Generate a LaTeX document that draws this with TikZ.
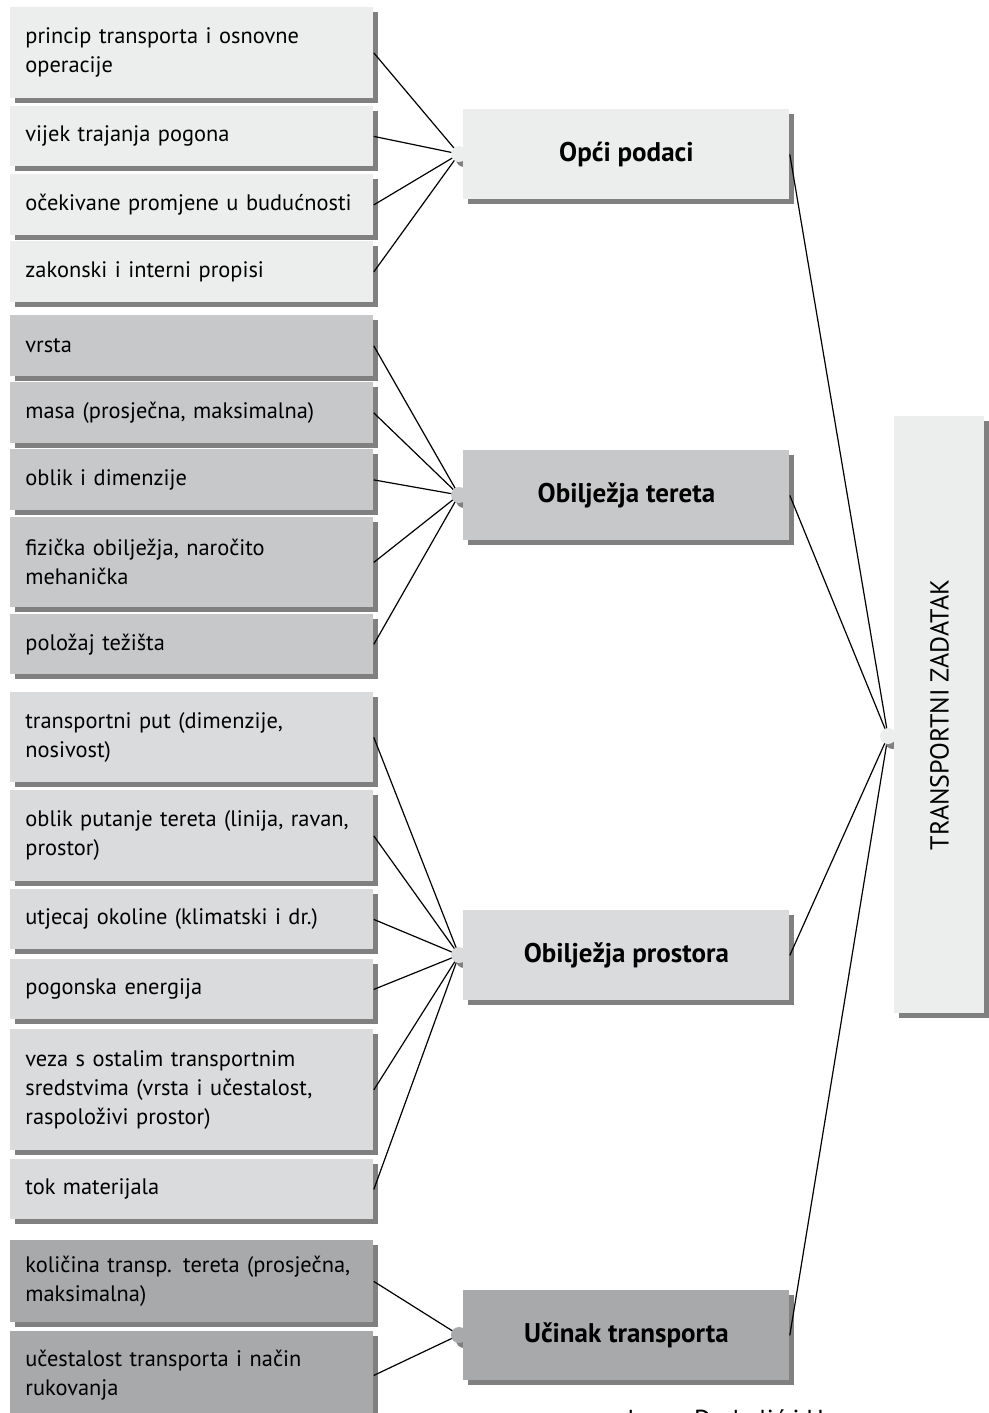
\documentclass[tikz,border=0pt]{standalone}
\usepackage{fontspec}
\setmainfont{PT Sans}
\usetikzlibrary{shadows}

\definecolor{toneA}{RGB}{236,237,237}
\definecolor{toneB}{RGB}{199,200,201}
\definecolor{toneC}{RGB}{218,219,220}
\definecolor{toneD}{RGB}{168,169,171}
\definecolor{shadegrey}{RGB}{128,128,128}

\begin{document}
\begin{tikzpicture}[x=0.5pt, y=-0.5pt,
    box/.style={inner sep=0pt,
        drop shadow={shadow xshift=2.5pt, shadow yshift=-2.5pt, fill=shadegrey, opacity=1}},
    leaf/.style={box, anchor=north west, minimum width=181.5pt, text width=166.5pt,
        inner xsep=7.5pt, align=left, font=\fontsize{11.2}{14.5}\selectfont},
    hub/.style={box, anchor=north west, minimum width=163pt, minimum height=45pt,
        font=\fontsize{13.5}{15}\selectfont\bfseries},
    tab/.style={box, circle, minimum size=8pt},
    link/.style={line width=0.6pt}]
    \useasboundingbox (0,0) rectangle (989,1413);

    % General data
    \node[leaf, fill=toneA, minimum height=45.5pt] (princip) at (10,7) {princip transporta i osnovne\\ operacije};
    \node[leaf, fill=toneA, minimum height=30pt] (vijek) at (10,106) {vijek trajanja pogona};
    \node[leaf, fill=toneA, minimum height=30.5pt] (promjene) at (10,174) {očekivane promjene u budućnosti};
    \node[leaf, fill=toneA, minimum height=30.5pt] (propisi) at (10,241) {zakonski i interni propisi};

    % Load properties
    \node[leaf, fill=toneB, minimum height=30.5pt] (vrsta) at (10,315) {vrsta};
    \node[leaf, fill=toneB, minimum height=30.5pt] (masa) at (10,382) {masa (prosječna, maksimalna)};
    \node[leaf, fill=toneB, minimum height=30.5pt] (oblik) at (10,449) {oblik i dimenzije};
    \node[leaf, fill=toneB, minimum height=45pt] (fizicka) at (10,517) {fizička obilježja, naročito\\ mehanička};
    \node[leaf, fill=toneB, minimum height=30pt] (teziste) at (10,614) {položaj težišta};

    % Space properties
    \node[leaf, fill=toneC, minimum height=45pt] (put) at (10,692) {transportni put (dimenzije,\\ nosivost)};
    \node[leaf, fill=toneC, minimum height=45.5pt] (putanja) at (10,790) {oblik putanje tereta (linija, ravan,\\ prostor)};
    \node[leaf, fill=toneC, minimum height=30pt] (okolina) at (10,889) {utjecaj okoline (klimatski i dr.)};
    \node[leaf, fill=toneC, minimum height=30pt] (energija) at (10,959) {pogonska energija};
    \node[leaf, fill=toneC, minimum height=60.5pt] (veza) at (10,1029) {veza s ostalim transportnim\\ sredstvima (vrsta i učestalost,\\ raspoloživi prostor)};
    \node[leaf, fill=toneC, minimum height=30pt] (tok) at (10,1159) {tok materijala};

    % Throughput
    \node[leaf, fill=toneD, minimum height=41pt] (kolicina) at (10,1240) {količina transp. tereta (prosječna,\\ maksimalna)};
    \node[leaf, fill=toneD, minimum height=44pt] (ucestalost) at (10,1331) {učestalost transporta i način\\ rukovanja};

    % Joints on the left of each group box
    \coordinate (tabA) at (459,154);
    \coordinate (tabB) at (459,495);
    \coordinate (tabC) at (459,955);
    \coordinate (tabD) at (459,1335);
    \coordinate (tabZ) at (888,736);

    \foreach \n in {princip,vijek,promjene,propisi}
        \draw[link] (\n.east) -- (tabA);
    \foreach \n in {vrsta,masa,oblik,fizicka,teziste}
        \draw[link] (\n.east) -- (tabB);
    \foreach \n in {put,putanja,okolina,energija,veza,tok}
        \draw[link] (\n.east) -- (tabC);
    \foreach \n in {kolicina,ucestalost}
        \draw[link] (\n.east) -- (tabD);

    \node[tab, fill=toneA] at (tabA) {};
    \node[tab, fill=toneB] at (tabB) {};
    \node[tab, fill=toneC] at (tabC) {};
    \node[tab, fill=toneD] at (tabD) {};

    % Group boxes
    \node[hub, fill=toneA] (opci) at (463,109) {Opći podaci};
    \node[hub, fill=toneB] (teret) at (463,450) {Obilježja tereta};
    \node[hub, fill=toneC] (prostor) at (463,910) {Obilježja prostora};
    \node[hub, fill=toneD] (ucinak) at (463,1290) {Učinak transporta};

    \foreach \n in {opci,teret,prostor,ucinak}
        \draw[link] (\n.east) -- (tabZ);

    % Task box
    \node[tab, fill=toneA] at (tabZ) {};
    \node[box, fill=toneA, anchor=north west, minimum width=45pt, minimum height=298.5pt] (zadatak) at (894,416) {};
    \node[rotate=90, font=\fontsize{13}{15}\selectfont] at (zadatak.center) {TRANSPORTNI ZADATAK};

    \node[anchor=base west, font=\fontsize{13}{15}\selectfont] (izvor) at (620,1428) {Ivana Drakulić i H};
\end{tikzpicture}
\end{document}
